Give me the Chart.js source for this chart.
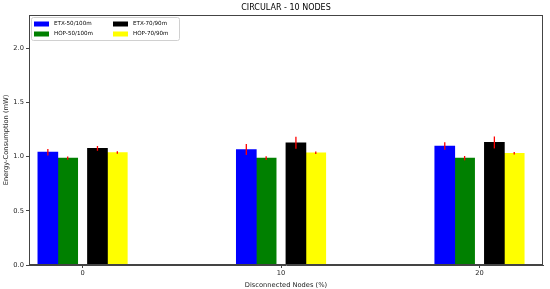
<!DOCTYPE html>
<html>
<head>
<meta charset="utf-8">
<script src="https://cdn.jsdelivr.net/npm/chart.js@4/dist/chart.umd.min.js"></script>
<style>
html, body { margin: 0; padding: 0; background: #fff; }
</style>
</head>
<body>
<canvas id="my-chart" width="550" height="289"></canvas>
<script>
// disconnected nodes (%) categories
const nodes = [0, 10, 20]
const seriesNames = ['ETX-50/100m', 'HOP-50/100m', 'ETX-70/90m', 'HOP-70/90m']
const seriesColors = ['blue', 'green', 'black', 'yellow']
const barShift = [-1.75, -0.75, 0.75, 1.75]

// energy consumption (mW)
const etx50 = [1.04, 1.065, 1.097]
const hop50 = [0.985, 0.985, 0.985]
const etx70 = [1.075, 1.127, 1.13]
const hop70 = [1.037, 1.035, 1.03]

// error (half length)
const etx50Err = [0.03, 0.05, 0.035]
const hop50Err = [0.015, 0.018, 0.02]
const etx70Err = [0.022, 0.055, 0.055]
const hop70Err = [0.012, 0.012, 0.012]

const yTicks = [0, 0.5, 1.0, 1.5, 2.0]
const chartTitle = 'CIRCULAR - 10 NODES'

const values = [etx50, hop50, etx70, hop70]
const errors = [etx50Err, hop50Err, etx70Err, hop70Err]
const font = 'DejaVu Sans'

const errorBars = {
  id: 'errorBars',
  afterDatasetsDraw(chart) {
    const ctx = chart.ctx
    const y = chart.scales.y
    ctx.save()
    ctx.strokeStyle = 'red'
    ctx.lineWidth = 1.3
    chart.data.datasets.forEach((ds, k) => {
      const meta = chart.getDatasetMeta(k)
      meta.data.forEach((bar, i) => {
        const v = values[k][i]
        const e = errors[k][i]
        ctx.beginPath()
        ctx.moveTo(bar.x, y.getPixelForValue(v - e))
        ctx.lineTo(bar.x, y.getPixelForValue(v + e))
        ctx.stroke()
      })
    })
    ctx.restore()
  }
}

// box round the axes + title centred over the axes (like matplotlib)
const frame = {
  id: 'frame',
  afterDraw(chart) {
    const a = chart.chartArea
    const ctx = chart.ctx
    ctx.save()
    ctx.strokeStyle = '#444'
    ctx.lineWidth = 1
    ctx.strokeRect(Math.round(a.left) + 0.5, Math.round(a.top) + 0.5, Math.round(a.right - a.left) - 1, Math.round(a.bottom - a.top) - 1)
    ctx.fillStyle = '#000'
    ctx.font = '8px "' + font + '"'
    ctx.textAlign = 'center'
    ctx.textBaseline = 'middle'
    ctx.fillText(chartTitle, (a.left + a.right) / 2, 8)
    ctx.restore()
  }
}

const insideLegend = {
  id: 'insideLegend',
  afterDraw(chart) {
    const ctx = chart.ctx
    ctx.save()
    ctx.fillStyle = 'rgba(255,255,255,0.8)'
    ctx.strokeStyle = '#d0d0d0'
    ctx.lineWidth = 1
    ctx.beginPath()
    ctx.roundRect(31.5, 17.5, 148, 23, 2)
    ctx.fill()
    ctx.stroke()
    ctx.font = '5.6px "' + font + '"'
    ctx.textBaseline = 'middle'
    chart.data.datasets.forEach((ds, k) => {
      const col = Math.floor(k / 2)
      const row = k % 2
      const sx = 34 + col * 79
      const sy = 24 + row * 10
      ctx.fillStyle = ds.backgroundColor
      ctx.fillRect(sx, sy - 2.5, 15, 5)
      ctx.fillStyle = '#000'
      ctx.fillText(ds.label, sx + 20, sy)
    })
    ctx.restore()
  }
}

const ctx = document.getElementById('my-chart').getContext('2d')
const chart = new Chart(ctx, {
  type: 'bar',
  data: {
    datasets: seriesNames.map((name, k) => ({
      label: name,
      backgroundColor: seriesColors[k],
      data: nodes.map((n, i) => ({ x: n + barShift[k], y: values[k][i] })),
      barThickness: 20,
      grouped: false
    }))
  },
  options: {
    responsive: false,
    animation: false,
    devicePixelRatio: 1,
    layout: { padding: { left: 0, right: 7, top: 15, bottom: 0 } },
    plugins: {
      legend: { display: false },
      tooltip: { enabled: false },
      title: { display: false }
    },
    scales: {
      x: {
        type: 'linear',
        min: -2.7,
        max: 23.2,
        offset: false,
        afterBuildTicks: s => { s.ticks = nodes.map(v => ({ value: v })) },
        afterFit: s => { s.height = 24 },
        ticks: { color: '#222', font: { family: font, size: 6.7 }, padding: 1, callback: v => v, maxRotation: 0 },
        grid: { offset: false, drawOnChartArea: false, tickLength: 3, color: '#444' },
        border: { color: '#444' },
        title: { display: true, text: 'Disconnected Nodes (%)', color: '#222', font: { family: font, size: 6.7 }, padding: { top: 1, bottom: 0 } }
      },
      y: {
        min: 0,
        max: 2.305,
        afterBuildTicks: s => { s.ticks = yTicks.map(v => ({ value: v })) },
        afterFit: s => { s.width = 29 },
        ticks: { color: '#222', font: { family: font, size: 6.7 }, padding: 2, callback: v => v.toFixed(1) },
        grid: { drawOnChartArea: false, tickLength: 3, color: '#444' },
        border: { color: '#444' },
        title: { display: true, text: 'Energy-Consumption (mW)', color: '#222', font: { family: font, size: 6.7 }, padding: { top: 2, bottom: 0 } }
      }
    }
  },
  plugins: [errorBars, frame, insideLegend]
})
</script>
</body>
</html>
